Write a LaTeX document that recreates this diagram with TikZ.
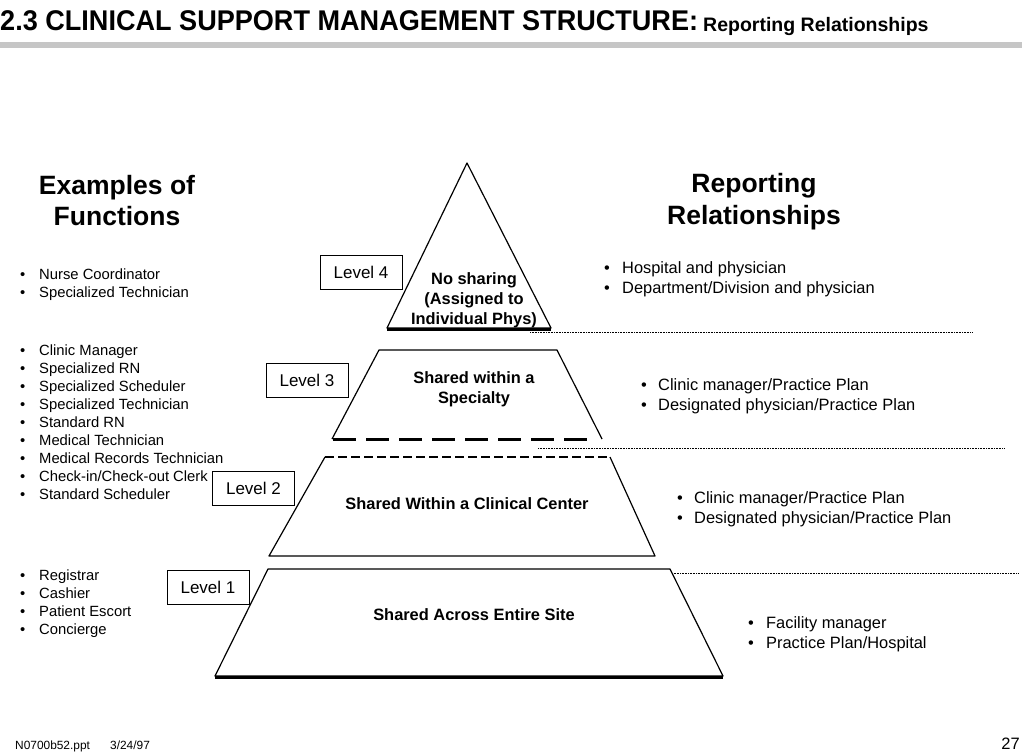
\documentclass[tikz,border=0pt]{standalone}
\usepackage{fontspec}
\setmainfont{Liberation Sans}
\newfontfamily\titlefont[FakeStretch=0.95]{Liberation Sans}
\newcommand{\bul}[2]{\makebox[#1][l]{\textbullet}#2}

\begin{document}
\begin{tikzpicture}[x=1pt, y=-1pt,
	fn/.style={anchor=base west, inner sep=0pt, font=\fontsize{14.8}{18}\selectfont},
	rp/.style={anchor=base west, inner sep=0pt, font=\fontsize{16.4}{20}\selectfont},
	head/.style={anchor=base, inner sep=0pt, font=\fontsize{26.5}{31}\selectfont\bfseries},
	tier/.style={anchor=base, inner sep=0pt, font=\fontsize{16.4}{20}\selectfont\bfseries},
	lvl/.style={draw=black, line width=1pt, fill=white, minimum width=82pt, minimum height=34pt, inner sep=0pt, font=\fontsize{17}{20}\selectfont},
	edge/.style={line width=1.2pt, line join=round},
	sep/.style={line width=0.8pt, dash pattern=on 0.8pt off 0.8pt}]
	\useasboundingbox (0,0) rectangle (1024,754);

	% title
	\node[anchor=base west, inner sep=0pt, font=\fontsize{28.5}{30}\titlefont\bfseries] (T) at (0,31) {2.3 CLINICAL SUPPORT MANAGEMENT STRUCTURE:};
	\node[anchor=base west, inner sep=0pt, font=\fontsize{19.5}{22}\selectfont\bfseries] (S) at (703,32) {Reporting Relationships};
	\fill[gray!45] (0,42) rectangle (1022,48);

	% column heads
	\node[head] (E1) at (117,194) {Examples of};
	\node[head] (E2) at (117,225) {Functions};
	\node[head] (R1) at (754,193) {Reporting};
	\node[head] (R2) at (754,224) {Relationships};

	% pyramid
	\draw[edge] (467,163) -- (551,328) -- (387,328) -- cycle;
	\draw[line width=3pt] (387,329) -- (551,329);
	\draw[edge] (332,439) -- (379,350) -- (557,350) -- (602,439);
	\draw[line width=3pt, dash pattern=on 23pt off 10pt] (333,439) -- (592,439);
	\draw[edge] (325,457) -- (269,556) -- (655,556) -- (610,457);
	\draw[line width=1.2pt, dash pattern=on 9pt off 4pt] (325,457) -- (610,457);
	\draw[edge] (268,569) -- (670,569) -- (723,676) -- (215,676) -- cycle;
	\draw[line width=3pt] (215,677) -- (723,677);

	% separators
	\draw[sep] (530,332) -- (972,332);
	\draw[sep] (538,448) -- (1005,448);
	\draw[sep] (672,573) -- (1018,573);

	% tier texts
	\node[tier] (P4a) at (474,284) {No sharing};
	\node[tier] (P4b) at (474,304) {(Assigned to};
	\node[tier] (P4c) at (474,324) {Individual Phys)};
	\node[tier] (P3a) at (474,383) {Shared within a};
	\node[tier] (P3b) at (474,403) {Specialty};
	\node[tier] (P2) at (467,509) {Shared Within a Clinical Center};
	\node[tier] (P1) at (474,620) {Shared Across Entire Site};

	% level boxes
	\node[lvl] (L4) at (361,272.5) {Level 4};
	\node[lvl] (L3) at (307,380.5) {Level 3};
	\node[lvl] (L2) at (253.5,488) {Level 2};
	\node[lvl] (L1) at (208,587) {Level 1};

	% functions
	\foreach \t [count=\i] in {Nurse Coordinator, Specialized Technician}
		\node[fn] (f4\i) at (20,{279+18*(\i-1)}) {\bul{19pt}{\t}};
	\foreach \t [count=\i] in {Clinic Manager, Specialized RN, Specialized Scheduler, Specialized Technician, Standard RN, Medical Technician, Medical Records Technician, Check-in/Check-out Clerk, Standard Scheduler}
		\node[fn] (f3\i) at (20,{355+18*(\i-1)}) {\bul{19pt}{\t}};
	\foreach \t [count=\i] in {Registrar, Cashier, Patient Escort, Concierge}
		\node[fn] (f1\i) at (20,{580+18*(\i-1)}) {\bul{19pt}{\t}};

	% reporting
	\foreach \t [count=\i] in {Hospital and physician, Department/Division and physician}
		\node[rp] (r4\i) at (604,{273+20*(\i-1)}) {\bul{18pt}{\t}};
	\foreach \t [count=\i] in {Clinic manager/Practice Plan, Designated physician/Practice Plan}
		\node[rp] (r3\i) at (641,{390+20*(\i-1)}) {\bul{17pt}{\t}};
	\foreach \t [count=\i] in {Clinic manager/Practice Plan, Designated physician/Practice Plan}
		\node[rp] (r2\i) at (677,{503+20*(\i-1)}) {\bul{17pt}{\t}};
	\foreach \t [count=\i] in {Facility manager, Practice Plan/Hospital}
		\node[rp] (r1\i) at (748,{628+20*(\i-1)}) {\bul{18pt}{\t}};

	% footer
	\node[anchor=base west, inner sep=0pt, font=\fontsize{11.9}{14}\selectfont] (F1) at (15,749) {N0700b52.ppt};
	\node[anchor=base west, inner sep=0pt, font=\fontsize{11.9}{14}\selectfont] (F2) at (110,749) {3/24/97};
	\node[anchor=base east, inner sep=0pt, font=\fontsize{16.5}{18}\selectfont] (N) at (1020,749) {27};
\end{tikzpicture}
\end{document}
